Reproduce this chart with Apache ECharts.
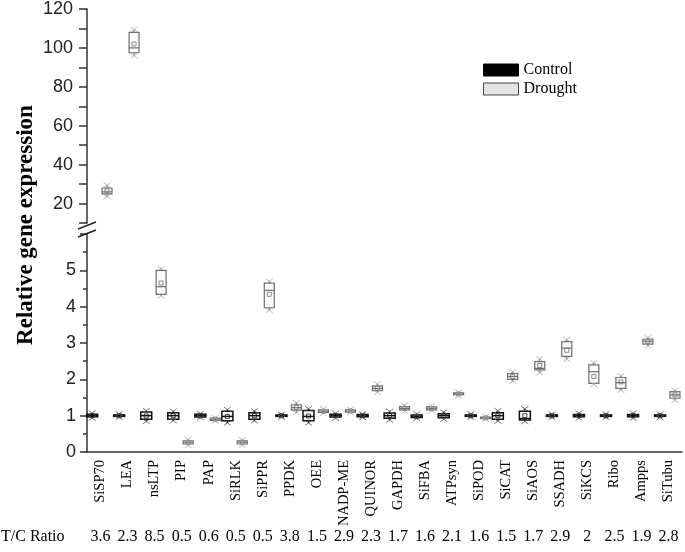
<!DOCTYPE html>
<html>
<head>
<meta charset="utf-8">
<script src="https://cdn.jsdelivr.net/npm/echarts@6/dist/echarts.min.js"></script>
<style>html,body{margin:0;padding:0;background:#fff}#c{width:685px;height:552px}</style>
</head>
<body>
<div id="c"></div>
<script>
// ---- data ----
const genes = ['SiSP70','LEA','nsLTP','PIP','PAP','SiRLK','SiPPR','PPDK','OEE','NADP-ME','QUINOR','GAPDH','SiFBA','ATPsyn','SiPOD','SiCAT','SiAOS','SSADH','SiKCS','Ribo','Ampps','SiTubu'];
const ratios = ['3.6','2.3','8.5','0.5','0.6','0.5','0.5','3.8','1.5','2.9','2.3','1.7','1.6','2.1','1.6','1.5','1.7','2.9','2','2.5','1.9','2.8'];
// each entry: [min, q1, median, mean, q3, max]
const controlBoxes = [
  [0.93,0.97,1.00,1.00,1.04,1.07],
  [0.95,0.98,1.00,1.00,1.02,1.05],
  [0.84,0.90,1.00,0.99,1.10,1.14],
  [0.86,0.90,1.00,1.00,1.08,1.12],
  [0.94,0.96,1.00,1.00,1.04,1.06],
  [0.80,0.86,0.98,0.98,1.12,1.17],
  [0.86,0.90,1.00,1.00,1.08,1.13],
  [0.96,0.98,1.00,1.00,1.02,1.04],
  [0.80,0.86,0.98,0.99,1.14,1.19],
  [0.93,0.96,1.00,1.00,1.04,1.07],
  [0.95,0.97,1.00,1.00,1.03,1.05],
  [0.88,0.93,1.00,1.00,1.07,1.12],
  [0.92,0.95,0.98,0.98,1.02,1.05],
  [0.90,0.94,1.00,1.00,1.05,1.10],
  [0.95,0.98,1.00,1.00,1.02,1.05],
  [0.85,0.90,1.00,1.00,1.08,1.14],
  [0.84,0.88,0.92,1.00,1.12,1.19],
  [0.95,0.98,1.00,1.00,1.02,1.05],
  [0.93,0.97,1.00,1.00,1.03,1.07],
  [0.95,0.98,1.00,1.00,1.02,1.05],
  [0.93,0.97,1.00,1.00,1.03,1.07],
  [0.95,0.98,1.00,1.00,1.02,1.05]
];
const droughtBoxes = [
  [23.5,25.0,26.0,26.5,28.0,29.5],
  [96.0,97.5,100.0,102.0,108.0,109.5],
  [4.30,4.34,4.55,4.65,5.00,5.05],
  [0.18,0.22,0.27,0.27,0.31,0.35],
  [0.85,0.87,0.90,0.90,0.93,0.95],
  [0.19,0.22,0.27,0.27,0.31,0.34],
  [3.90,3.97,4.45,4.34,4.65,4.70],
  [1.08,1.15,1.22,1.23,1.30,1.36],
  [1.06,1.09,1.12,1.12,1.16,1.19],
  [1.08,1.10,1.13,1.13,1.16,1.18],
  [1.64,1.69,1.75,1.76,1.82,1.87],
  [1.12,1.16,1.20,1.20,1.25,1.29],
  [1.13,1.16,1.20,1.20,1.24,1.27],
  [1.55,1.58,1.60,1.60,1.63,1.65],
  [0.90,0.92,0.94,0.94,0.96,0.98],
  [1.95,2.00,2.08,2.08,2.16,2.21],
  [2.18,2.26,2.30,2.38,2.49,2.56],
  [2.55,2.63,2.86,2.80,3.04,3.10],
  [1.86,1.89,2.21,2.08,2.40,2.46],
  [1.70,1.75,1.91,1.93,2.05,2.10],
  [2.92,2.97,3.05,3.05,3.11,3.15],
  [1.42,1.48,1.57,1.57,1.66,1.70]
];
const lowerMax = 6;

// ---- build ----
const toRows = (boxes, keep) => boxes.map((b, i) => [i].concat(b)).filter(r => keep(r));
const ctrlLower = toRows(controlBoxes, r => r[6] <= lowerMax);
const drLower = toRows(droughtBoxes, r => r[6] <= lowerMax);
const drUpper = toRows(droughtBoxes, r => r[6] > lowerMax);

function makeRender(offFrac, boxW, stroke, fill, xColor, lw) {
  return function (params, api) {
    const ci = api.value(0);
    const v = [1,2,3,4,5,6].map(k => api.value(k));
    const bw = api.size([1, 0])[0];
    const cx = api.coord([ci, v[2]])[0] + offFrac * bw;
    const y = val => api.coord([ci, val])[1];
    const yMin = y(v[0]), yQ1 = y(v[1]), yMed = y(v[2]), yMean = y(v[3]), yQ3 = y(v[4]), yMax = y(v[5]);
    const h = boxW / 2;
    const xs = 2.5;
    const ch = [];
    ch.push({type:'line', shape:{x1:cx, y1:yQ3, x2:cx, y2:yMax}, style:{stroke:stroke, lineWidth:1}});
    ch.push({type:'line', shape:{x1:cx, y1:yQ1, x2:cx, y2:yMin}, style:{stroke:stroke, lineWidth:1}});
    ch.push({type:'rect', shape:{x:cx - h, y:yQ3, width:boxW, height:Math.max(yQ1 - yQ3, 1)}, style:{stroke:stroke, fill:fill, lineWidth:lw}});
    ch.push({type:'line', shape:{x1:cx - h, y1:yMed, x2:cx + h, y2:yMed}, style:{stroke:stroke, lineWidth:lw}});
    ch.push({type:'rect', shape:{x:cx - 2, y:yMean - 2, width:4, height:4}, style:{stroke:stroke, fill:'none', lineWidth:0.8}});
    [yMin, yMax].forEach(yy => {
      ch.push({type:'line', shape:{x1:cx - xs - 1, y1:yy - xs, x2:cx + xs + 1, y2:yy + xs}, style:{stroke:xColor, lineWidth:0.8}});
      ch.push({type:'line', shape:{x1:cx - xs - 1, y1:yy + xs, x2:cx + xs + 1, y2:yy - xs}, style:{stroke:xColor, lineWidth:0.8}});
    });
    return {type:'group', children: ch};
  };
}

const ctrlRender = makeRender(-0.31, 11, '#111', '#fff', '#555', 1.5);
const drRender = makeRender(0.24, 10, '#6e6e6e', '#fafafa', '#aaa', 1.2);

const axisColor = '#333';
const serif = 'Liberation Serif, Times New Roman, serif';
const sansTick = {fontFamily:'Liberation Sans, Arial, sans-serif', fontSize:18, color:'#222'};

const option = {
  animation: false,
  backgroundColor: '#fff',
  grid: [
    {left: 87, right: 3, top: 234, height: 218},
    {left: 87, right: 3, top: 8, height: 215}
  ],
  xAxis: [
    {
      type: 'category', gridIndex: 0, data: genes,
      axisLine: {lineStyle: {color: axisColor, width: 1.5}},
      axisTick: {inside: true, length: 8, lineStyle: {color: axisColor, width: 1.5}},
      axisLabel: {rotate: 90, interval: 0, margin: 8, fontFamily: serif, fontSize: 14.5, color: '#000'}
    },
    {
      type: 'category', gridIndex: 1, data: genes, show: false
    },
    {
      type: 'category', gridIndex: 0, data: ratios, position: 'bottom', offset: 71,
      axisLine: {show: false}, axisTick: {show: false},
      axisLabel: {interval: 0, margin: 6, fontFamily: serif, fontSize: 16, color: '#000'}
    }
  ],
  yAxis: [
    {
      type: 'value', gridIndex: 0, min: 0, max: lowerMax, interval: 1,
      splitLine: {show: false},
      axisLine: {show: true, lineStyle: {color: axisColor, width: 1.5}},
      axisTick: {show: true, length: 7, lineStyle: {color: axisColor, width: 1.5}},
      minorTick: {show: true, splitNumber: 2, length: 4, lineStyle: {color: axisColor, width: 1.5}},
      axisLabel: Object.assign({margin: 11, formatter: v => (v === lowerMax ? '' : String(v))}, sansTick)
    },
    {
      type: 'value', gridIndex: 1, min: 10, max: 120, interval: 10,
      splitLine: {show: false},
      axisLine: {show: true, lineStyle: {color: axisColor, width: 1.5}},
      axisTick: {show: true, length: 8, lineStyle: {color: axisColor, width: 1.5}},
      axisLabel: Object.assign({margin: 14, formatter: v => (v % 20 === 0 ? String(v) : '')}, sansTick)
    }
  ],
  legend: {
    left: 483, top: 62, padding: 0, orient: 'vertical', itemWidth: 35, itemHeight: 12, itemGap: 3,
    textStyle: {fontFamily: serif, fontSize: 16, color: '#000'},
    data: [
      {name: 'Control', icon: 'rect', itemStyle: {color: '#000', borderColor: '#000', borderWidth: 1}},
      {name: 'Drought', icon: 'rect', itemStyle: {color: '#e4e4e4', borderColor: '#444', borderWidth: 1}}
    ]
  },
  series: [
    {name: 'Control', type: 'custom', xAxisIndex: 0, yAxisIndex: 0, data: ctrlLower, renderItem: ctrlRender,
      encode: {x: 0, y: [1,2,3,4,5,6]}, itemStyle: {color: '#000'}, clip: false},
    {name: 'Drought', type: 'custom', xAxisIndex: 0, yAxisIndex: 0, data: drLower, renderItem: drRender,
      encode: {x: 0, y: [1,2,3,4,5,6]}, itemStyle: {color: '#e4e4e4'}, clip: false},
    {name: 'Drought', type: 'custom', xAxisIndex: 1, yAxisIndex: 1, data: drUpper, renderItem: drRender,
      encode: {x: 0, y: [1,2,3,4,5,6]}, itemStyle: {color: '#e4e4e4'}, clip: false}
  ],
  graphic: [
    {type: 'rect', shape: {x: 80, y: 224, width: 14, height: 9}, style: {fill: '#fff'}, z: 100},
    {type: 'line', shape: {x1: 78, y1: 229, x2: 96, y2: 222}, style: {stroke: '#222', lineWidth: 1.5}, z: 101},
    {type: 'line', shape: {x1: 78, y1: 237, x2: 96, y2: 230}, style: {stroke: '#222', lineWidth: 1.5}, z: 101},
    {type: 'text', x: 26, y: 225, rotation: Math.PI / 2,
      style: {text: 'Relative gene expression', fontFamily: serif, fontWeight: 'bold', fontSize: 23, fill: '#000', align: 'center', verticalAlign: 'middle'}},
    {type: 'text', x: 1, y: 537,
      style: {text: 'T/C Ratio', fontFamily: serif, fontSize: 16, fill: '#000', align: 'left', verticalAlign: 'middle'}}
  ]
};

const chart = echarts.init(document.getElementById('c'), null, {renderer: 'canvas'});
chart.setOption(option);
</script>
</body>
</html>
